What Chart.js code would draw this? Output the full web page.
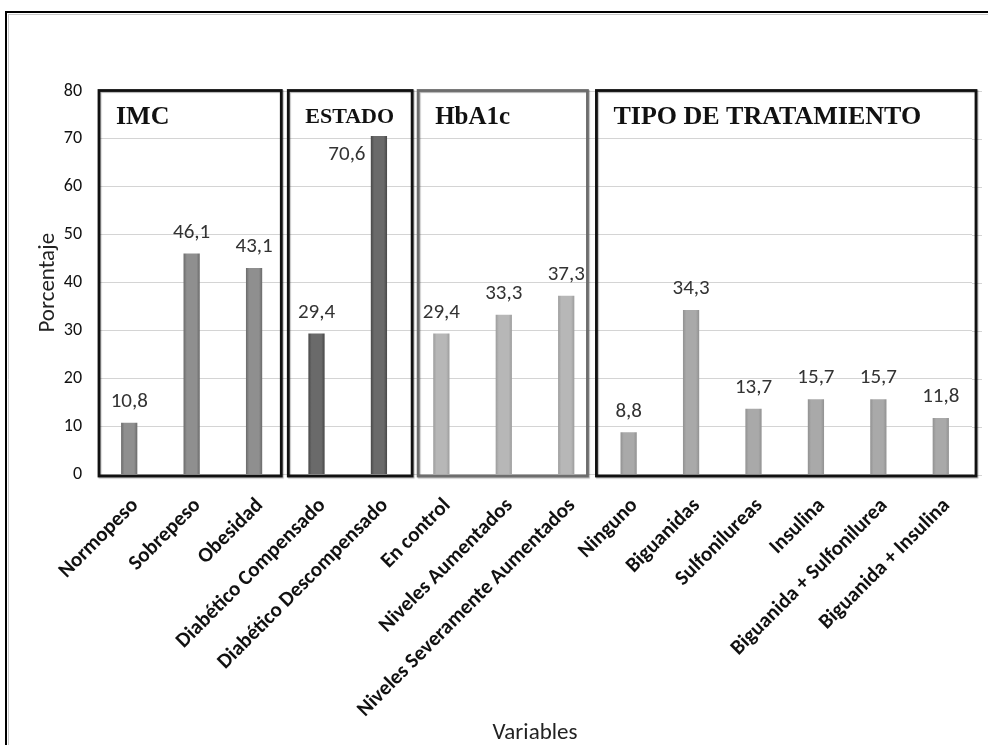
<!DOCTYPE html>
<html lang="es">
<head>
  <meta charset="UTF-8">
  <title>Porcentaje por variables</title>
  <script src="https://cdn.jsdelivr.net/npm/chart.js"></script>
  <style>
    html, body { margin: 0; padding: 0; background: #fff; overflow: hidden; }
    #wrap { position: relative; width: 988px; height: 745px; }
  </style>
</head>
<body>
  <div id="wrap"><canvas id="chart" width="988" height="745"></canvas></div>

  <script>
    // datos
    const categories = [
      'Normopeso', 'Sobrepeso', 'Obesidad',
      'Diabético Compensado', 'Diabético Descompensado',
      'En control', 'Niveles Aumentados', 'Niveles Severamente Aumentados',
      'Ninguno', 'Biguanidas', 'Sulfonilureas', 'Insulina',
      'Biguanida + Sulfonilurea', 'Biguanida + Insulina'
    ];
    const values = [10.8, 46.1, 43.1, 29.4, 70.6, 29.4, 33.3, 37.3, 8.8, 34.3, 13.7, 15.7, 15.7, 11.8];
    const groupNames = ['IMC', 'ESTADO', 'HbA1c', 'TIPO DE TRATAMIENTO'];
    const groupSizes = [3, 2, 3, 6];
    const yMin = 0, yMax = 80, yStep = 10;

    // estilos por grupo
    const groupFill = ['#8f8f8f', '#6a6a6a', '#b7b7b7', '#a9a9a9'];
    const groupEdge = ['#6a6a6a', '#474747', '#9c9c9c', '#919191'];
    const groupBoxColor = ['#111', '#111', '#6d6d6d', '#111'];
    const groupTitleSize = [26, 22, 25, 26];
    // ajuste de los recuadros respecto al límite de categoría (px)
    const boxInsetLeft = [1, 3, 8, -1];
    const boxInsetRight = [4, -2, 10, -4];

    const groupOf = [];
    groupSizes.forEach((n, g) => { for (let i = 0; i < n; i++) groupOf.push(g); });

    const sansFont = 'Carlito, Lato, sans-serif';
    const fmt = v => v.toFixed(1).replace('.', ',');

    function barFill(c) {
      const g = groupOf[c.dataIndex];
      const el = c.chart.getDatasetMeta(0).data[c.dataIndex];
      if (!el || !isFinite(el.x) || !el.width) return groupFill[g];
      const ctx = c.chart.ctx;
      const x0 = el.x - el.width / 2, x1 = el.x + el.width / 2;
      const grad = ctx.createLinearGradient(x0, 0, x1, 0);
      grad.addColorStop(0, groupEdge[g]);
      grad.addColorStop(0.2, groupFill[g]);
      grad.addColorStop(0.8, groupFill[g]);
      grad.addColorStop(1, groupEdge[g]);
      return grad;
    }

    const framePlugin = {
      id: 'frame',
      beforeDraw(chart) {
        const ctx = chart.ctx;
        ctx.save();
        ctx.fillStyle = '#fff';
        ctx.fillRect(0, 0, chart.width, chart.height);
        ctx.strokeStyle = '#c8c8c8';
        ctx.lineWidth = 1;
        ctx.beginPath();
        ctx.moveTo(8.5, 14); ctx.lineTo(8.5, chart.height);
        ctx.moveTo(8, 14.5); ctx.lineTo(chart.width, 14.5);
        ctx.stroke();
        ctx.strokeStyle = '#000';
        ctx.lineWidth = 2;
        ctx.beginPath();
        ctx.moveTo(6, 12); ctx.lineTo(6, chart.height);
        ctx.moveTo(5, 12); ctx.lineTo(chart.width, 12);
        ctx.stroke();
        ctx.restore();
      },
      beforeDatasetsDraw(chart) {
        // las líneas de cuadrícula se prolongan un poco a la derecha
        const ctx = chart.ctx, y = chart.scales.y, a = chart.chartArea;
        ctx.save();
        ctx.strokeStyle = '#d4d4d4';
        ctx.lineWidth = 1;
        ctx.beginPath();
        y.ticks.forEach(t => {
          const py = Math.round(y.getPixelForValue(t.value)) + 0.5;
          ctx.moveTo(a.right, py); ctx.lineTo(a.right + 10, py);
        });
        ctx.stroke();
        ctx.restore();
      }
    };

    const groupsPlugin = {
      id: 'groups',
      afterDatasetsDraw(chart) {
        const ctx = chart.ctx, x = chart.scales.x, y = chart.scales.y;
        const meta = chart.getDatasetMeta(0);
        const half = (x.getPixelForValue(1) - x.getPixelForValue(0)) / 2;
        const top = y.getPixelForValue(yMax) - 0.5, bottom = y.getPixelForValue(yMin) + 1.5;

        // etiquetas de datos
        ctx.save();
        ctx.font = '21px ' + sansFont;
        ctx.fillStyle = '#333';
        ctx.textAlign = 'center';
        ctx.textBaseline = 'middle';
        meta.data.forEach((bar, i) => {
          const txt = fmt(values[i]);
          if (bar.y - 21 < top + 50) {
            ctx.fillText(txt, bar.x - 32, bar.y + 19);
          } else {
            ctx.fillText(txt, bar.x, bar.y - 21);
          }
        });
        ctx.restore();

        // recuadros de grupo
        let start = 0;
        groupSizes.forEach((n, g) => {
          const left = x.getPixelForValue(start) - half + boxInsetLeft[g];
          const right = x.getPixelForValue(start + n - 1) + half - boxInsetRight[g];
          ctx.save();
          ctx.shadowColor = 'rgba(0,0,0,0.3)';
          ctx.shadowOffsetX = 1; ctx.shadowOffsetY = 1; ctx.shadowBlur = 1;
          ctx.strokeStyle = groupBoxColor[g];
          ctx.lineWidth = 2.8;
          ctx.strokeRect(left, top, right - left, bottom - top);
          ctx.restore();

          ctx.save();
          ctx.font = 'bold ' + groupTitleSize[g] + 'px "Liberation Serif", "Times New Roman", serif';
          ctx.fillStyle = '#111';
          ctx.textAlign = 'left';
          ctx.textBaseline = 'middle';
          ctx.fillText(groupNames[g], left + 17, top + 27);
          ctx.restore();
          start += n;
        });
      }
    };

    const chart = new Chart(document.getElementById('chart'), {
      type: 'bar',
      data: {
        labels: categories,
        datasets: [{
          data: values,
          backgroundColor: barFill,
          borderWidth: 0,
          categoryPercentage: 1,
          barPercentage: 0.26
        }]
      },
      options: {
        responsive: false,
        animation: false,
        layout: { padding: { top: 91, right: 16, left: 0, bottom: 0 } },
        plugins: { legend: { display: false }, tooltip: { enabled: false } },
        scales: {
          x: {
            afterFit: s => { s.height = 270.5; },
            grid: { display: false, drawTicks: false },
            border: { display: true, color: '#d4d4d4' },
            ticks: {
              autoSkip: false,
              maxRotation: 45, minRotation: 45,
              padding: 19,
              labelOffset: 6,
              color: '#111',
              font: { family: sansFont, size: 21, weight: 'bold' }
            },
            title: {
              display: true, text: 'Variables', color: '#222',
              font: { family: sansFont, size: 23, lineHeight: 1 },
              padding: { top: 0, bottom: 0 }
            }
          },
          y: {
            min: yMin, max: yMax,
            afterFit: s => { s.width = 98; },
            grid: { color: '#d4d4d4', drawTicks: false },
            border: { display: false },
            ticks: {
              stepSize: yStep, padding: 16,
              color: '#111',
              font: { family: sansFont, size: 18 }
            },
            title: {
              display: true, text: 'Porcentaje', color: '#222',
              font: { family: sansFont, size: 23 },
              padding: { top: 34, bottom: 0 }
            }
          }
        }
      },
      plugins: [framePlugin, groupsPlugin]
    });
    chart.update();
  </script>
</body>
</html>
